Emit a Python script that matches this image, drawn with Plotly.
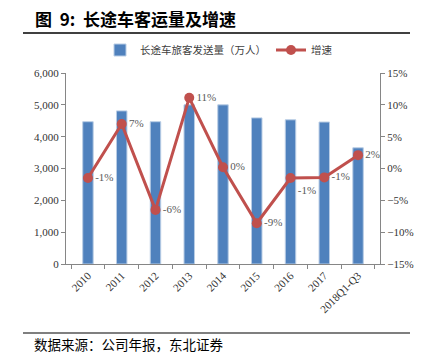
import plotly.graph_objects as go

categories = ["2010", "2011", "2012", "2013", "2014", "2015", "2016", "2017", "2018Q1-Q3"]
passengers = [4470, 4810, 4470, 5000, 5000, 4590, 4530, 4460, 3650]
growth = [-1.5, 7.0, -6.5, 11.1, 0.2, -8.6, -1.5, -1.4, 2.1]
growth_labels = ["-1%", "7%", "-6%", "11%", "0%", "-9%", "-1%", "-1%", "2%"]
label_positions = ["middle right"] * 6 + ["bottom right", "middle right", "middle right"]

L, R, T, B = 66, 380, 73, 264
def px(x):
    return (x - L) / (R - L)
def py(y):
    return (B - y) / (B - T)

serif = "Liberation Serif, Times New Roman, serif"
cjk = "Noto Sans CJK SC"

fig = go.Figure()
fig.add_trace(go.Bar(
    x=categories, y=passengers, name="长途车旅客发送量（万人）",
    marker=dict(color="#4F81BD", line=dict(color="#B9CDE5", width=1)),
    yaxis="y",
))
fig.add_trace(go.Scatter(
    x=categories, y=growth, name="增速", yaxis="y2",
    mode="lines+markers+text",
    line=dict(color="#C0504D", width=3),
    marker=dict(color="#C0504D", size=10),
    text=growth_labels, textposition=label_positions,
    textfont=dict(family=serif, size=11, color="#595959"),
    cliponaxis=False,
))

fig.update_layout(
    width=427, height=364,
    margin=dict(l=L, r=427 - R, t=T, b=364 - B, autoexpand=False),
    paper_bgcolor="white", plot_bgcolor="white",
    bargap=0.69,
    showlegend=True,
    legend=dict(orientation="h", x=px(100), y=py(50), xanchor="left", yanchor="middle",
                font=dict(family=cjk, size=10.5, color="#404040"),
                tracegroupgap=0, bgcolor="rgba(0,0,0,0)"),
    xaxis=dict(
        type="category", showline=True, linecolor="#868686", linewidth=1,
        ticks="outside", tickson="boundaries", ticklen=4, tickcolor="#868686",
        tickangle=-45, tickfont=dict(family=serif, size=11, color="#333333"),
        showgrid=False, automargin=False,
    ),
    yaxis=dict(
        range=[0, 6000], dtick=1000, tickformat=",",
        showline=True, linecolor="#868686", linewidth=1,
        ticks="outside", ticklen=4, tickcolor="#868686",
        tickfont=dict(family=serif, size=11, color="#333333"),
        showgrid=False, zeroline=False, automargin=False,
    ),
    yaxis2=dict(
        range=[-15, 15], dtick=5, ticksuffix="%", overlaying="y", side="right",
        showline=True, linecolor="#868686", linewidth=1,
        ticks="outside", ticklen=4, tickcolor="#868686",
        tickfont=dict(family=serif, size=11, color="#333333"),
        showgrid=False, zeroline=False, automargin=False,
    ),
    annotations=[
        dict(text="<b>图  9:  长途车客运量及增速</b>", xref="paper", yref="paper",
             x=px(33), y=py(18), xanchor="left", yanchor="middle", showarrow=False,
             font=dict(family=cjk, size=17, color="black")),
        dict(text="数据来源：公司年报，东北证券", xref="paper", yref="paper",
             x=px(32), y=py(344), xanchor="left", yanchor="middle", showarrow=False,
             font=dict(family=cjk, size=13.5, color="black")),
    ],
    shapes=[
        dict(type="line", xref="paper", yref="paper", x0=px(23), x1=px(410),
             y0=py(33), y1=py(33), line=dict(color="black", width=1.5)),
        dict(type="line", xref="paper", yref="paper", x0=px(23), x1=px(410),
             y0=py(333), y1=py(333), line=dict(color="#555555", width=1.5)),
    ],
)

fig.write_html("out.html", config={"displayModeBar": False},
               post_script="document.body.style.margin='0';document.body.style.padding='0';")
